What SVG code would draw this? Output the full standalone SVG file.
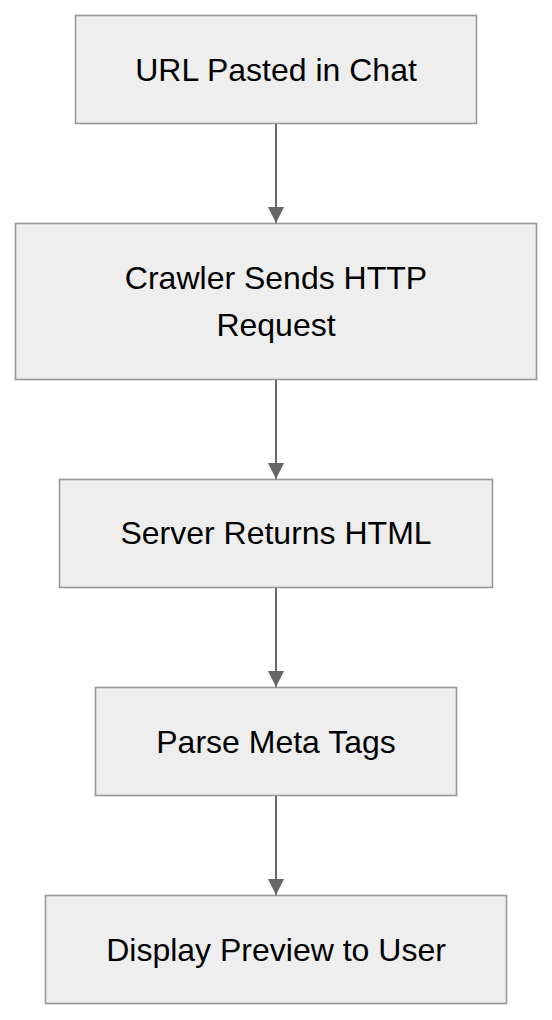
<svg xmlns="http://www.w3.org/2000/svg" width="552" height="1020" viewBox="0 0 552 1020">
<style>
.box{fill:#eeeeee;stroke:#999999;stroke-width:1.6}
.lbl{font-family:"Liberation Sans",Arial,sans-serif;font-size:32px;fill:#000;text-anchor:middle}
.edge{stroke:#666;stroke-width:2;fill:none}
</style>
<defs>
<marker id="ah" markerWidth="16" markerHeight="16" viewBox="0 0 16 16" refX="16" refY="8" orient="auto" markerUnits="userSpaceOnUse">
<path d="M0,0 L16,8 L0,16 Z" fill="#666"/>
</marker>
</defs>
<rect width="552" height="1020" fill="#fff"/>
<g id="connectors">
<line class="edge" x1="276" y1="124" x2="276" y2="223" marker-end="url(#ah)"/>
<line class="edge" x1="276" y1="380" x2="276" y2="479" marker-end="url(#ah)"/>
<line class="edge" x1="276" y1="588" x2="276" y2="687" marker-end="url(#ah)"/>
<line class="edge" x1="276" y1="796" x2="276" y2="895" marker-end="url(#ah)"/>
</g>
<g id="node1">
<rect class="box" x="75.5" y="15.5" width="401" height="108"/>
<text class="lbl" x="276" y="81">URL Pasted in Chat</text>
</g>
<g id="node2">
<rect class="box" x="15.5" y="223.5" width="521" height="156"/>
<text class="lbl" x="276" y="289">Crawler Sends HTTP</text>
<text class="lbl" x="276" y="336">Request</text>
</g>
<g id="node3">
<rect class="box" x="59.5" y="479.5" width="433" height="108"/>
<text class="lbl" x="276" y="544">Server Returns HTML</text>
</g>
<g id="node4">
<rect class="box" x="95.5" y="687.5" width="361" height="108"/>
<text class="lbl" x="276" y="753">Parse Meta Tags</text>
</g>
<g id="node5">
<rect class="box" x="45.5" y="895.5" width="461" height="108"/>
<text class="lbl" x="276" y="961">Display Preview to User</text>
</g>
</svg>
